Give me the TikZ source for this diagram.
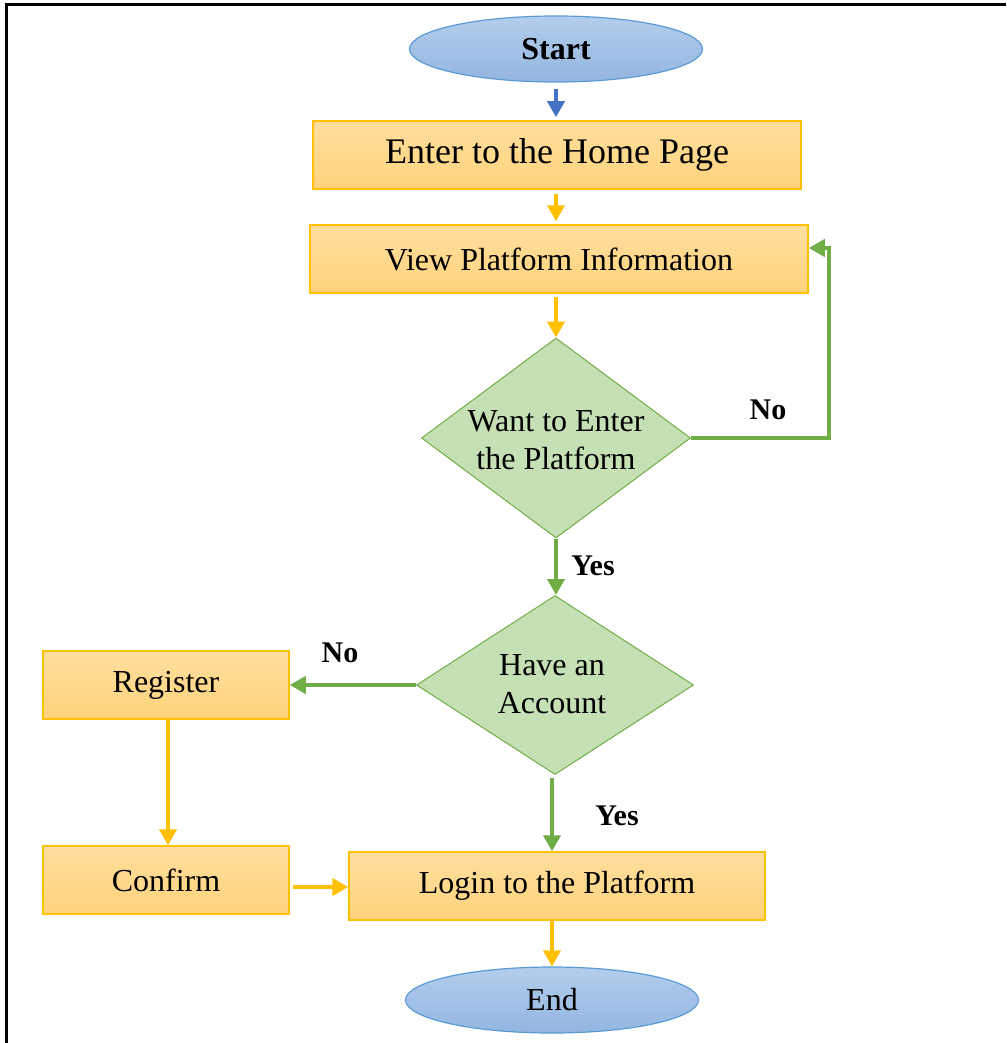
\documentclass[tikz,border=0pt]{standalone}
\usepackage{fontspec}
\setmainfont{Liberation Serif}
\usetikzlibrary{shapes.geometric,arrows.meta,calc}
\definecolor{boxtop}{HTML}{FFDE9E}
\definecolor{boxbot}{HTML}{FFD37C}
\definecolor{boxline}{HTML}{FFC000}
\definecolor{elltop}{HTML}{B3CDEC}
\definecolor{ellbot}{HTML}{93B6E0}
\definecolor{ellline}{HTML}{5B9BD5}
\definecolor{dfill}{HTML}{C5E0B4}
\definecolor{dline}{HTML}{70AD47}
\definecolor{arrblue}{HTML}{4472C4}
\begin{document}
\begin{tikzpicture}[x=1pt,y=-1pt,
  every node/.style={inner sep=0pt, text=black},
  procbox/.style={rectangle, draw=boxline, line width=1.5pt, top color=boxtop, bottom color=boxbot, minimum height=68pt, font=\fontsize{32}{38}\selectfont},
  termin/.style={ellipse, draw=ellline, line width=1.2pt, top color=elltop, bottom color=ellbot, minimum width=293pt, minimum height=66pt, font=\fontsize{32}{38}\selectfont},
  decis/.style={diamond, draw=dline, line width=1pt, fill=dfill},
  dtext/.style={align=center, font=\fontsize{32}{38}\selectfont},
  lbl/.style={font=\bfseries\fontsize{30}{36}\selectfont},
  yarrow/.style={draw=boxline, line width=4pt, -{Triangle[width=17pt,length=16pt]}},
  garrow/.style={draw=dline, line width=4pt, -{Triangle[width=17pt,length=16pt]}},
  barrow/.style={draw=arrblue, line width=4pt, -{Triangle[width=17pt,length=16pt]}}
]
\useasboundingbox (0,0) rectangle (1006,1043);
% frame
\draw[line width=3pt, black] (6,1043) -- (6,5) -- (1006,5);

\node[termin, font=\bfseries\fontsize{32}{38}\selectfont] (start) at (556,49) {Start};
\node[procbox, minimum width=488pt, font=\fontsize{36}{40}\selectfont] (home) at (557,155) {Enter to the Home Page};
\node[procbox, minimum width=498pt] (view) at (559,259) {View Platform Information};
\node[decis, minimum width=269pt, minimum height=200pt] (d1) at (556,438) {};
\node[dtext] (d1t) at (556,440) {Want to Enter\\the Platform};
\node[decis, minimum width=277pt, minimum height=179pt] (d2) at (555,685) {};
\node[dtext] (d2t) at (552,684) {Have an\\Account};
\node[procbox, minimum width=246pt] (reg) at (166,685) {Register};
\node[procbox, minimum width=246pt] (conf) at (166,880) {Confirm};
\node[procbox, minimum width=416pt] (login) at (557,886) {Login to the Platform};
\node[termin] (end) at (552,1000) {End};

\node[lbl] (no1) at (768,410) {No};
\node[lbl] (yes1) at (593,566) {Yes};
\node[lbl] (no2) at (340,653) {No};
\node[lbl] (yes2) at (617,816) {Yes};

\coordinate (loopc) at (829,248);

\draw[barrow, shorten <=6pt, shorten >=3pt] (start.south) -- (home.north -| start.south);
\draw[yarrow, shorten <=4pt, shorten >=3pt] (home.south -| start.south) -- (view.north -| start.south);
\draw[yarrow, shorten <=3pt] (view.south -| d1.north) -- (d1.north);
\draw[garrow] (d1.east) -| (loopc) -- (view.east |- loopc);
\draw[garrow] (d1.south) -- (d2.north -| d1.south);
\draw[garrow] (d2.west) -- (reg.east);
\draw[yarrow] ($(reg.south)+(2,0)$) -- ($(conf.north)+(2,0)$);
\draw[yarrow, shorten <=3pt] (conf.east |- 0,887) -- (login.west |- 0,887);
\draw[garrow, shorten <=3pt] (d2.south -| end.north) -- (login.north -| end.north);
\draw[yarrow] (login.south -| end.north) -- (end.north);
\end{tikzpicture}
\end{document}
